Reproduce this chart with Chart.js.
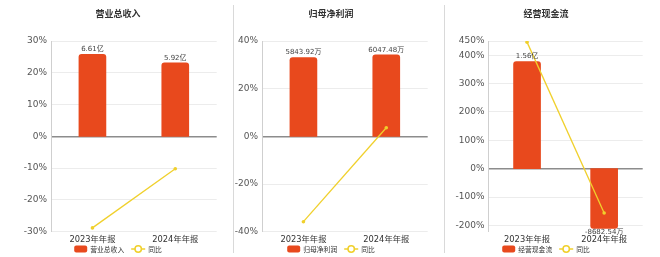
<!DOCTYPE html>
<html>
<head>
<meta charset="utf-8">
<script src="https://cdn.jsdelivr.net/npm/chart.js@4.4.1/dist/chart.umd.min.js"></script>
<style>
  html, body { margin: 0; padding: 0; background: #fff; }
  #wrap { position: relative; width: 660px; height: 257px; overflow: hidden; background: #fff; }
  canvas { position: absolute; top: 0; }
  .sep { position: absolute; top: 5px; width: 1px; height: 248px; background: #d9d9d9; }
</style>
</head>
<body>
<div id="wrap">
  <canvas id="c1" width="232" height="257" style="left:0px"></canvas>
  <div class="sep" style="left:233px"></div>
  <canvas id="c2" width="210" height="257" style="left:234px"></canvas>
  <div class="sep" style="left:444px"></div>
  <canvas id="c3" width="215" height="257" style="left:445px"></canvas>
</div>
<script>
// Reporting periods
const categories = ['2023年年报', '2024年年报'];
const yoyLabel = '同比';

// 营业总收入 (万元) and year-on-year change (%)
const revenueName = '营业总收入';
const revenueValues = [66100, 59200];
const revenueYoY = [-28.8, -10.2];

// 归母净利润 (万元) and year-on-year change (%)
const profitName = '归母净利润';
const profitValues = [5843.92, 6047.48];
const profitYoY = [-35.8, 3.6];

// 经营现金流 (万元) and year-on-year change (%)
const cashName = '经营现金流';
const cashValues = [15600, -8682.54];
const cashYoY = [446, -156];

// Percent axis ticks for each panel
const revenueTicks = [-30, -20, -10, 0, 10, 20, 30];
const profitTicks = [-40, -20, 0, 20, 40];
const cashTicks = [-200, -100, 0, 100, 200, 300, 400, 450];

const BAR_COLOR = '#E8491D';
const LINE_COLOR = '#F0D02C';
const NUM_FONT = '"DejaVu Sans", "Noto Sans CJK SC", sans-serif';
const CJK_FONT = '"Noto Sans CJK SC", "DejaVu Sans", sans-serif';

Chart.defaults.devicePixelRatio = 1;
Chart.defaults.animation = false;

function fmtAmount(v) {
  if (Math.abs(v) >= 10000) return (v / 10000).toFixed(2) + '亿';
  return v.toFixed(2) + '万';
}

// Titles, value labels and the bottom legend for each panel
const panelDecor = {
  id: 'panelDecor',
  afterDatasetsDraw(chart, args, opts) {
    const ctx = chart.ctx;
    ctx.save();
    // value labels on bars
    const meta = chart.getDatasetMeta(0);
    const vals = chart.data.datasets[0].data;
    ctx.font = '7px ' + NUM_FONT;
    ctx.fillStyle = '#444';
    ctx.textAlign = 'center';
    meta.data.forEach((bar, i) => {
      const v = vals[i];
      if (v >= 0) {
        ctx.textBaseline = 'bottom';
        ctx.fillText(fmtAmount(v), bar.x, bar.y - 1.5);
      } else {
        ctx.textBaseline = 'top';
        ctx.fillText(fmtAmount(v), bar.x, bar.y + 0.5);
      }
    });
    ctx.restore();
  },
  afterDraw(chart, args, opts) {
    const ctx = chart.ctx;
    const cx = opts.cx;
    ctx.save();
    // title
    ctx.font = 'bold 9px ' + CJK_FONT;
    ctx.fillStyle = '#333';
    ctx.textAlign = 'center';
    ctx.textBaseline = 'middle';
    ctx.fillText(opts.title, cx, 14);

    // legend
    const ly = 249;
    ctx.font = '6.8px ' + CJK_FONT;
    const barLabel = chart.data.datasets[0].label;
    const lineLabel = chart.data.datasets[1].label;
    const w1 = ctx.measureText(barLabel).width;
    const w2 = ctx.measureText(lineLabel).width;
    const total = 13 + 3 + w1 + 7 + 14 + 3 + w2;
    let x = cx - total / 2;
    ctx.fillStyle = chart.data.datasets[0].backgroundColor;
    ctx.beginPath();
    ctx.roundRect(x, ly - 3.5, 13, 7, 2);
    ctx.fill();
    x += 16;
    ctx.fillStyle = '#333';
    ctx.textAlign = 'left';
    ctx.fillText(barLabel, x, ly);
    x += w1 + 7;
    ctx.strokeStyle = chart.data.datasets[1].borderColor;
    ctx.lineWidth = 1.5;
    ctx.beginPath();
    ctx.moveTo(x, ly);
    ctx.lineTo(x + 14, ly);
    ctx.stroke();
    ctx.beginPath();
    ctx.arc(x + 7, ly, 3.2, 0, Math.PI * 2);
    ctx.fillStyle = '#fff';
    ctx.fill();
    ctx.stroke();
    x += 17;
    ctx.fillStyle = '#333';
    ctx.fillText(lineLabel, x, ly);
    ctx.restore();
  }
};

function makePanel(id, cfg) {
  new Chart(document.getElementById(id), {
    data: {
      labels: categories,
      datasets: [
        {
          type: 'bar', label: cfg.name, data: cfg.values, yAxisID: 'yBar',
          backgroundColor: BAR_COLOR, borderRadius: 3, barThickness: 27, order: 1
        },
        {
          type: 'line', label: yoyLabel, data: cfg.yoy, yAxisID: 'y',
          borderColor: LINE_COLOR, backgroundColor: LINE_COLOR, borderWidth: 1.3,
          pointRadius: 1.8, pointBorderWidth: 0, pointBackgroundColor: LINE_COLOR,
          tension: 0, order: 0
        }
      ]
    },
    options: {
      responsive: false,
      animation: false,
      layout: { padding: { top: 41, right: cfg.padRight, bottom: 0, left: 0 } },
      plugins: {
        legend: { display: false },
        title: { display: false },
        tooltip: { enabled: false },
        panelDecor: { title: cfg.name, cx: cfg.cx }
      },
      scales: {
        x: {
          grid: { display: false, drawTicks: false },
          border: { display: false },
          ticks: { color: '#333', font: { size: 8.3, family: NUM_FONT }, padding: 3.5, maxRotation: 0 },
          afterFit(s) { s.height = 25.3; }
        },
        y: {
          position: 'left',
          min: cfg.min, max: cfg.max,
          afterBuildTicks(s) { s.ticks = cfg.ticks.map(v => ({ value: v })); },
          afterFit(s) { s.width = cfg.axisWidth; },
          grid: {
            drawTicks: false,
            color: c => (c.tick && c.tick.value === 0) ? '#8c8c8c' : '#ececec',
            lineWidth: c => (c.tick && c.tick.value === 0) ? 1.5 : 1
          },
          border: { display: true, color: '#cfcfcf', width: 1 },
          ticks: {
            color: '#555', padding: 4,
            font: { size: 9, family: NUM_FONT },
            callback: v => v + '%'
          }
        },
        yBar: {
          display: false,
          min: cfg.barMin, max: cfg.barMax
        }
      }
    },
    plugins: [panelDecor]
  });
}

makePanel('c1', {
  name: revenueName, values: revenueValues, yoy: revenueYoY, ticks: revenueTicks,
  min: -30, max: 30, barMin: -76900, barMax: 76900,
  axisWidth: 51, padRight: 15.3, cx: 118
});
makePanel('c2', {
  name: profitName, values: profitValues, yoy: profitYoY, ticks: profitTicks,
  min: -40, max: 40, barMin: -7070, barMax: 7070,
  axisWidth: 28, padRight: 16.3, cx: 97
});
makePanel('c3', {
  name: cashName, values: cashValues, yoy: cashYoY, ticks: cashTicks,
  min: -222, max: 450, barMin: -9176, barMax: 18600,
  axisWidth: 43.5, padRight: 17.3, cx: 101
});
</script>
</body>
</html>
